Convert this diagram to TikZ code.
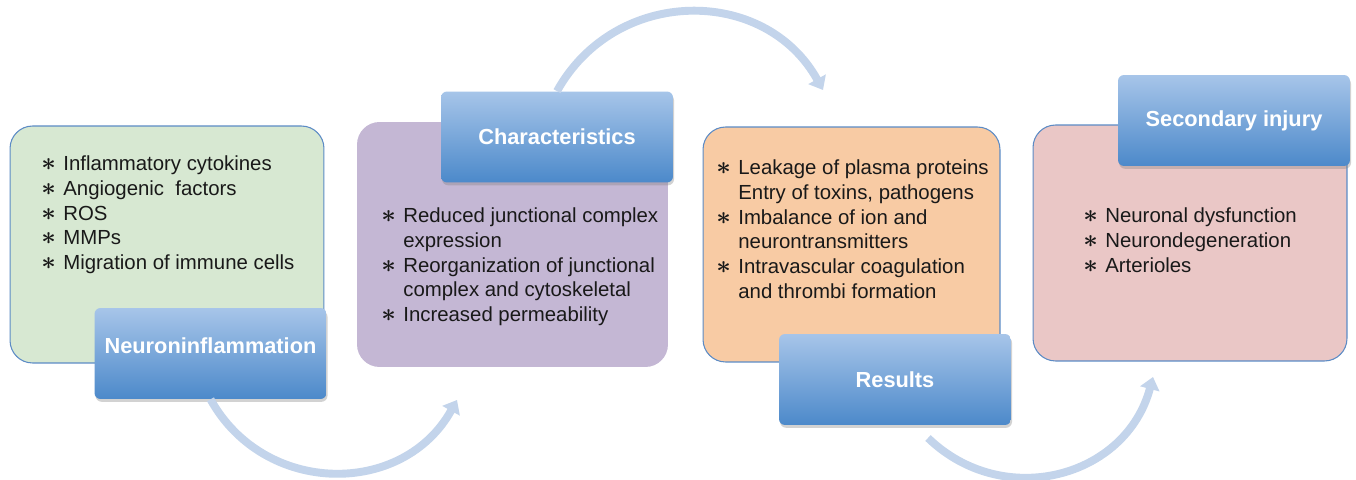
\documentclass[tikz,border=0pt]{standalone}
\usepackage{fontspec}
\setmainfont{Liberation Sans}
\usepackage{xcolor}
\usepackage{tikz}
\usetikzlibrary{arrows.meta, positioning, calc, shadows}

\definecolor{boxgreen}{HTML}{D7E8D2}
\definecolor{boxpurple}{HTML}{C4B7D4}
\definecolor{boxorange}{HTML}{F8CBA4}
\definecolor{boxpink}{HTML}{EAC7C6}
\definecolor{boxline}{HTML}{5C8BC5}
\definecolor{headtop}{HTML}{A7C5E9}
\definecolor{headbot}{HTML}{4C89CA}
\definecolor{flowblue}{HTML}{C3D4EB}

\newcommand{\itm}{\makebox[0.44cm][l]{\fontsize{15}{15}\selectfont\boldmath$\ast$}}
\newcommand{\ind}{\hspace*{0.44cm}}

\begin{document}
\begin{tikzpicture}[x=0.02cm,y=0.02cm,
			list box/.style={rounded corners=0.45cm,draw=boxline,line width=0.6pt},
			head node/.style={rounded corners=0.12cm,top color=headtop,bottom color=headbot,
				minimum width=4.64cm,minimum height=1.82cm,text=white,
				font=\fontsize{12.4}{15}\selectfont\bfseries,
				drop shadow={shadow xshift=0.6pt,shadow yshift=-1.6pt,opacity=0.35}},
			list text/.style={anchor=north west,inner sep=0pt,align=left,text=black!90,
				font=\fontsize{11.6}{14.2}\selectfont},
			flow/.style={draw=flowblue,line width=4.5pt,-{Triangle[width=11pt,length=7pt]},looseness=1.15}]
			
			\path[use as bounding box,fill=white] (0,0) rectangle (1356,480);
			
			% boxes
			\node[list box,fill=boxgreen,minimum width=6.28cm,minimum height=4.74cm] (inflam) at (167,235.5) {};
			\node[list box,draw=none,fill=boxpurple,minimum width=6.22cm,minimum height=4.90cm] (charbox) at (512.5,235.5) {};
			\node[list box,fill=boxorange,minimum width=5.94cm,minimum height=4.70cm] (resbox) at (851.5,235.5) {};
			\node[list box,fill=boxpink,minimum width=6.28cm,minimum height=4.72cm] (secbox) at (1190,237) {};
			
			\node[list text] (inflamlist) at (41,325) {\itm Inflammatory cytokines\\ \itm Angiogenic~ factors\\ \itm ROS\\ \itm MMPs\\ \itm Migration of immune cells};
			\node[list text] (charlist) at (381,273) {\itm Reduced junctional complex\\ \ind expression\\ \itm Reorganization of junctional\\ \ind complex and cytoskeletal\\ \itm Increased permeability};
			\node[list text] (reslist) at (716,321) {\itm Leakage of plasma proteins\\ \ind Entry of toxins, pathogens\\ \itm Imbalance of ion and\\ \ind neurontransmitters\\ \itm Intravascular coagulation\\ \ind and thrombi formation};
			\node[list text] (seclist) at (1083,273) {\itm Neuronal dysfunction\\ \itm Neurondegeneration\\ \itm Arterioles};
			
			% headers
			\node[head node,text depth=0.33cm] (neuro) at (210.5,126.5) {Neuroninflammation};
			\node[head node] (char) at (557,343) {Characteristics};
			\node[head node] (res) at (895,100.5) {Results};
			\node[head node] (sec) at (1234,359.5) {Secondary injury};
			
			% arrows
			\coordinate (t1) at (457,80);
			\coordinate (t2) at (823,390);
			\coordinate (s3) at (928,42);
			\coordinate (t3) at (1153,103);
			
			\path (neuro.south) edge[flow,out=-61,in=-119] (t1)
			(char.north) edge[flow,out=61,in=119] (t2)
			(s3) edge[flow,out=-44,in=-105] (t3);
		\end{tikzpicture}
\end{document}
